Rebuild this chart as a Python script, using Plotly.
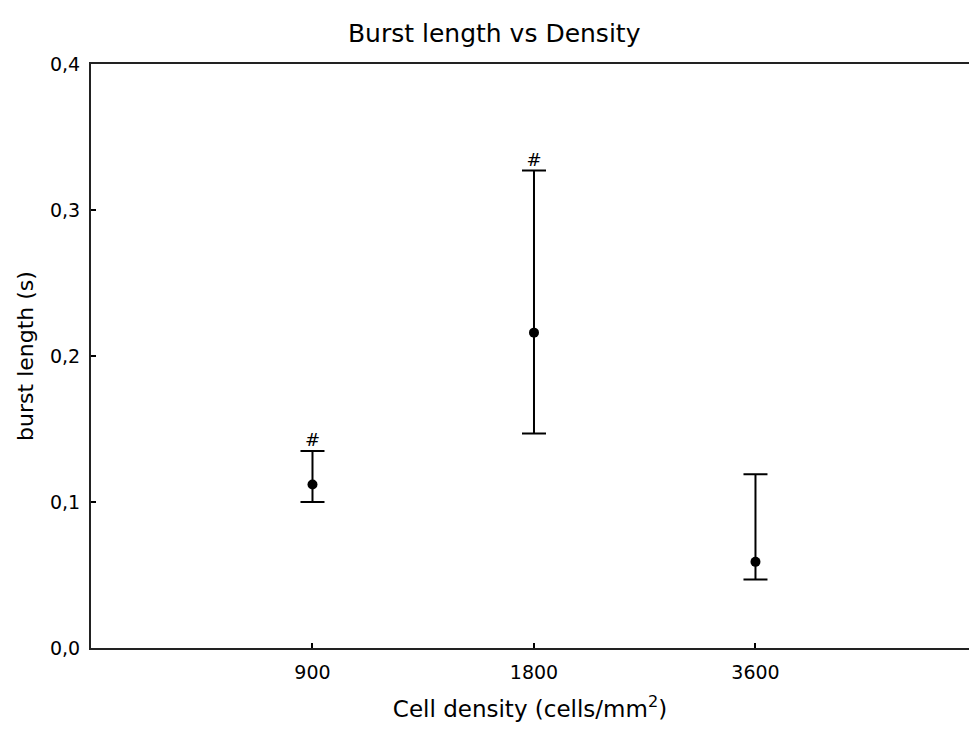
import plotly.graph_objects as go

# values
categories = ["900", "1800", "3600"]
x_pos = [1, 2, 3]
means = [0.112, 0.216, 0.059]
upper = [0.135, 0.327, 0.119]
lower = [0.100, 0.147, 0.047]
marked = [0, 1]  # groups flagged with "#"

err_plus = [u - m for u, m in zip(upper, means)]
err_minus = [m - l for m, l in zip(means, lower)]

FONT = "DejaVu Sans"

fig = go.Figure()

fig.add_trace(go.Scatter(
    x=x_pos,
    y=means,
    mode="markers",
    marker=dict(color="black", size=10),
    error_y=dict(
        type="data",
        symmetric=False,
        array=err_plus,
        arrayminus=err_minus,
        color="black",
        thickness=2,
        width=12,
    ),
    showlegend=False,
))

# significance marks above the upper whiskers
fig.add_trace(go.Scatter(
    x=[x_pos[i] for i in marked],
    y=[upper[i] for i in marked],
    mode="text",
    text=["#"] * len(marked),
    textposition="top center",
    textfont=dict(family=FONT, size=18, color="black"),
    showlegend=False,
))

fig.update_layout(
    width=969,
    height=733,
    margin=dict(l=91, r=0, t=64, b=85),
    paper_bgcolor="white",
    plot_bgcolor="white",
    separators=",.",
    font=dict(family=FONT, size=19, color="black"),
    title=dict(
        text="Burst length vs Density",
        x=0.51,
        xanchor="center",
        y=0.955,
        yanchor="middle",
        font=dict(family=FONT, size=25, color="black"),
    ),
    xaxis=dict(
        range=[0, 3.964],
        tickvals=x_pos,
        ticktext=categories,
        ticks="inside",
        ticklen=5,
        tickwidth=1.5,
        tickcolor="black",
        ticklabelstandoff=6,
        showline=True,
        linecolor="#222222",
        linewidth=2,
        mirror=True,
        showgrid=False,
        zeroline=False,
        tickfont=dict(family=FONT, size=19),
        title=dict(text="Cell density (cells/mm<sup>2</sup>)", font=dict(family=FONT, size=23), standoff=19),
    ),
    yaxis=dict(
        range=[0, 0.4],
        tickvals=[0, 0.1, 0.2, 0.3, 0.4],
        tickformat=".1f",
        ticks="inside",
        ticklen=5,
        tickwidth=1.5,
        tickcolor="black",
        ticklabelstandoff=5,
        showline=True,
        linecolor="#222222",
        linewidth=2,
        showgrid=False,
        zeroline=False,
        tickfont=dict(family=FONT, size=19),
        title=dict(text="burst length (s)", font=dict(family=FONT, size=22), standoff=10),
    ),
)

# drop the default page margin so the figure fills the window edge to edge
fig.write_html(
    "out.html",
    config={"displayModeBar": False},
    post_script="document.body.style.margin='0';document.documentElement.style.overflow='hidden';",
)
